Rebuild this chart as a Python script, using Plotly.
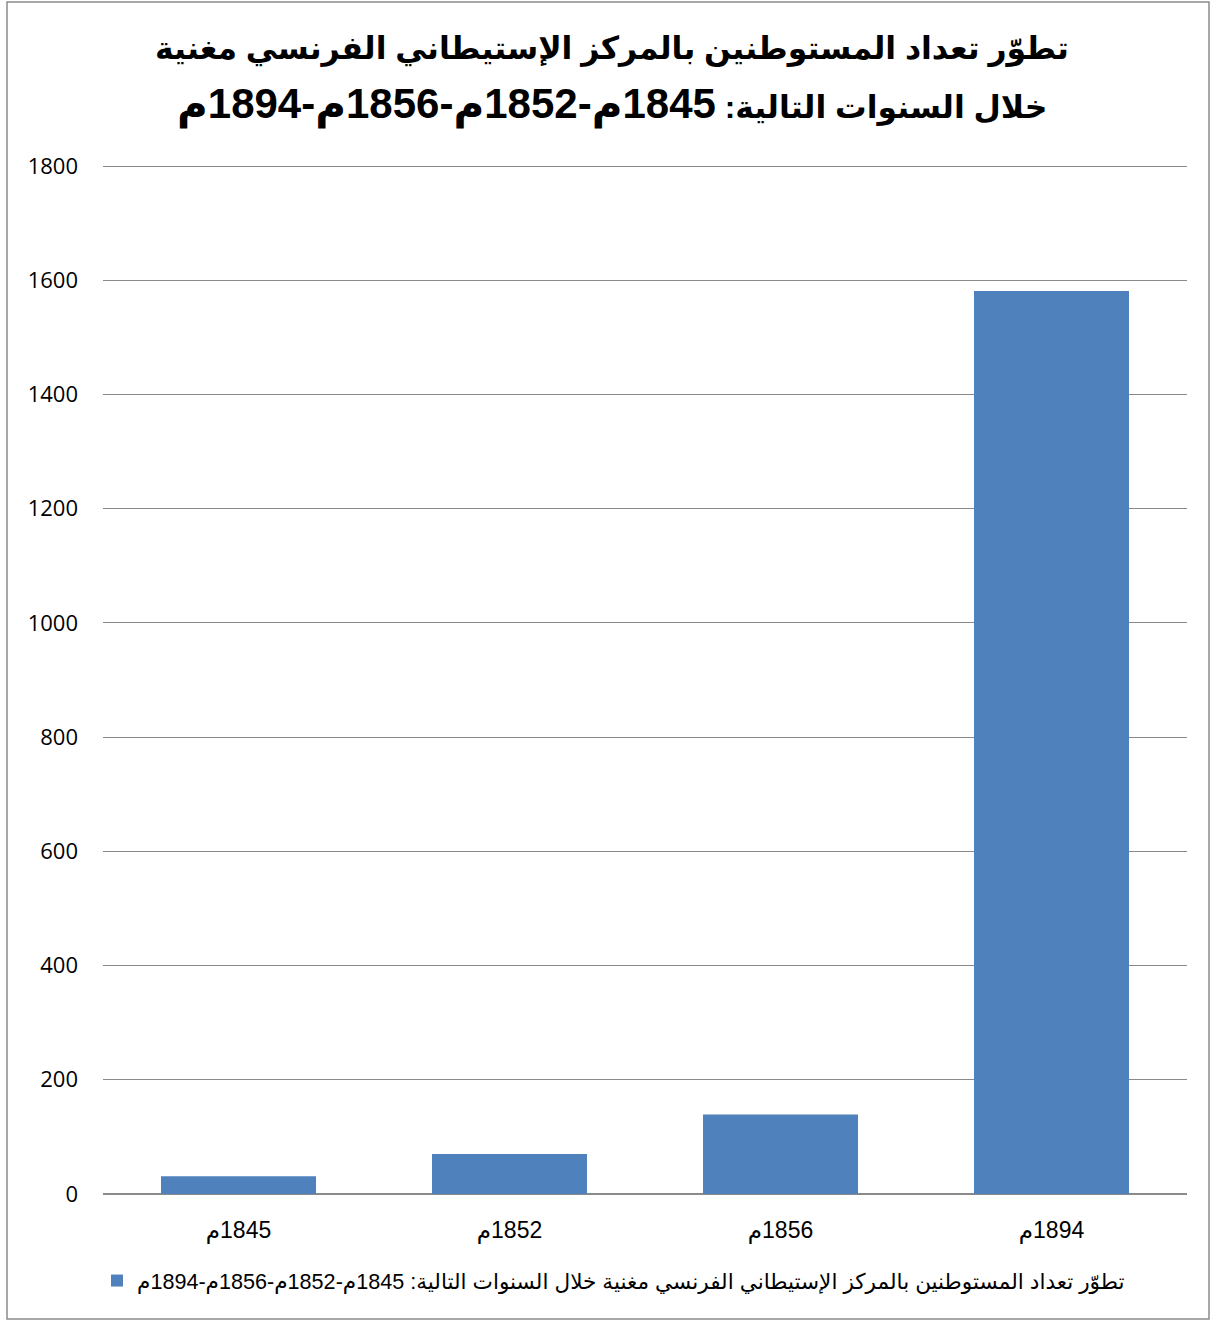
import plotly.graph_objects as go

# Data: settler population at the Maghnia settlement
years = ["1845م", "1852م", "1856م", "1894م"]
settlers = [31, 70, 139, 1581]
y_ticks = [0, 200, 400, 600, 800, 1000, 1200, 1400, 1600, 1800]

title_line1 = "تطوّر تعداد المستوطنين بالمركز الإستيطاني الفرنسي مغنية"
title_line2_words = "خلال السنوات التالية: "
title_line2_years = "1845م-1852م-1856م-1894م"
series_name = title_line1 + " " + title_line2_words + title_line2_years

RLE, PDF = "\u202b", "\u202c"


def rtl(s):
    return RLE + s + PDF


BAR_COLOR = "#4F81BD"
GRID_COLOR = "#8A8A8A"
ARABIC_FONT = "Liberation Sans, Arial, DejaVu Sans, sans-serif"

fig = go.Figure()
fig.add_trace(go.Bar(
    x=[rtl(y) for y in years],
    y=settlers,
    name=rtl(series_name),
    marker=dict(color=BAR_COLOR, line=dict(width=0)),
    showlegend=True,
))

W, H = 1211, 1321
ml, mr, mt, mb = 103, 24, 164, 127
pw, ph = W - ml - mr, H - mt - mb
y_top = 1803.5


def px_x(p):
    return (p - ml) / pw


def px_y(p):
    return (H - mb - p) / ph


fig.update_layout(
    width=W, height=H,
    margin=dict(l=ml, r=mr, t=mt, b=mb, pad=0),
    paper_bgcolor="white",
    plot_bgcolor="white",
    bargap=0.428,
    font=dict(family=ARABIC_FONT, color="black"),
    showlegend=True,
    legend=dict(
        orientation="h",
        x=px_x(97), xanchor="left",
        y=px_y(1281), yanchor="middle",
        font=dict(size=21.6, family=ARABIC_FONT, color="black"),
        bgcolor="rgba(0,0,0,0)",
        itemwidth=30,
    ),
    xaxis=dict(
        showgrid=False,
        showline=False,
        tickfont=dict(size=23, family=ARABIC_FONT, color="black"),
        ticks="",
        ticklabelstandoff=20,
        fixedrange=True,
    ),
    yaxis=dict(
        range=[0, y_top],
        tickvals=y_ticks,
        ticktext=[str(v) for v in y_ticks],
        showgrid=True,
        gridcolor=GRID_COLOR,
        gridwidth=1.4,
        zeroline=True,
        zerolinecolor=GRID_COLOR,
        zerolinewidth=2.2,
        showline=False,
        ticks="",
        ticklabelstandoff=24,
        tickfont=dict(size=22, family="Open Sans, Lato, sans-serif", color="black"),
        fixedrange=True,
    ),
    annotations=[
        dict(
            text=rtl(title_line1), xref="paper", yref="paper",
            x=px_x(612), y=px_y(48), xanchor="center", yanchor="middle",
            showarrow=False,
            font=dict(size=31.5, family=ARABIC_FONT, color="black", weight="bold"),
        ),
        dict(
            text=RLE + title_line2_words
            + '<span style="font-size:42px">' + title_line2_years + PDF + "</span>",
            xref="paper", yref="paper",
            x=px_x(612), y=px_y(104), xanchor="center", yanchor="middle",
            showarrow=False,
            font=dict(size=31.5, family=ARABIC_FONT, color="black", weight="bold"),
        ),
    ],
    shapes=[
        dict(
            type="rect", xref="paper", yref="paper",
            x0=px_x(7), x1=px_x(1209), y0=px_y(1319), y1=px_y(2),
            line=dict(color="#8C8C8C", width=1.5),
            fillcolor="rgba(0,0,0,0)", layer="below",
        ),
    ],
)

fig.write_html("out.html")
